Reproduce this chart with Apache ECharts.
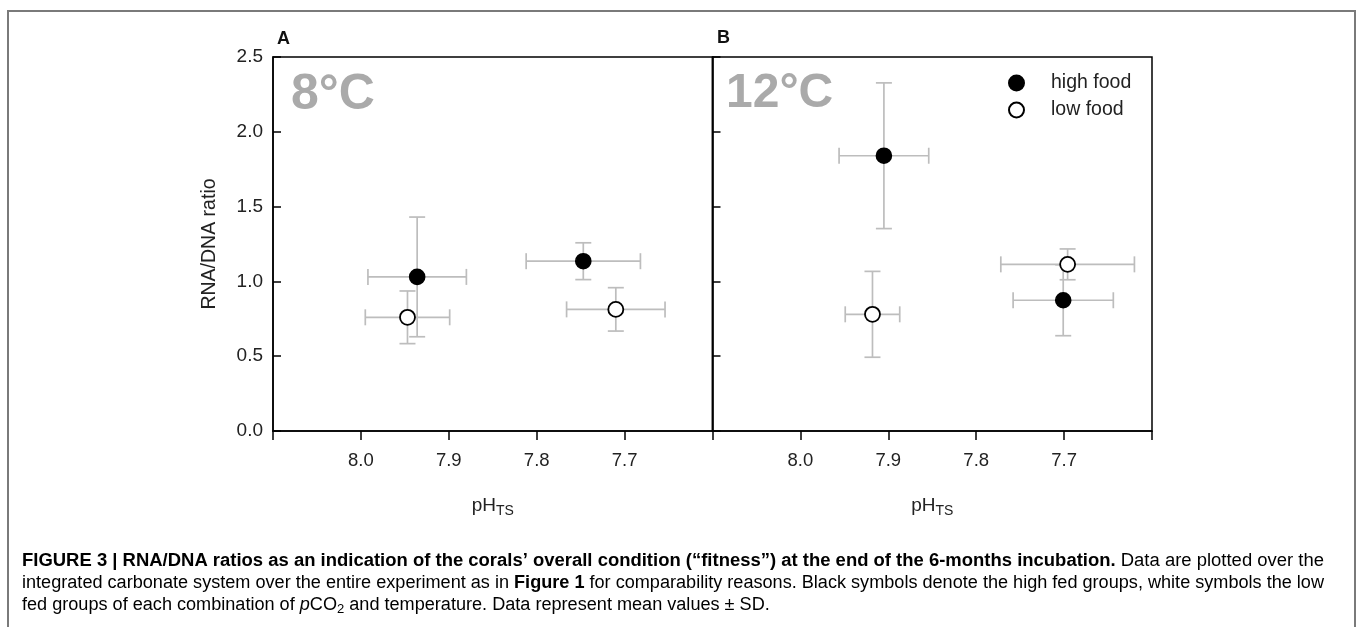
<!DOCTYPE html>
<html><head><meta charset="utf-8">
<script src="https://cdn.jsdelivr.net/npm/echarts@6/dist/echarts.min.js"></script>
<style>html,body{margin:0;padding:0;background:#fff}#c{width:1357px;height:627px}</style>
</head><body><div id="c"></div>
<script>
// ---- data ----
const seriesNames = ['high food', 'low food'];
const panelLetters = ['A', 'B'];
const panelTemps = ['8°C', '12°C'];
const phTickLabels = ['8.0', '7.9', '7.8', '7.7'];
const ratioTickLabels = ['0.0', '0.5', '1.0', '1.5', '2.0', '2.5'];

// Panel A (8 °C)
const aHighPh = [7.936, 7.747];
const aHighPhSd = [0.056, 0.065];
const aHighRatio = [1.03, 1.135];
const aHighRatioSd = [0.40, 0.123];
const aLowPh = [7.947, 7.710];
const aLowPhSd = [0.048, 0.056];
const aLowRatio = [0.76, 0.813];
const aLowRatioSd = [0.176, 0.145];

// Panel B (12 °C)
const bHighPh = [7.905, 7.701];
const bHighPhSd = [0.051, 0.057];
const bHighRatio = [1.84, 0.874];
const bHighRatioSd = [0.487, 0.237];
const bLowPh = [7.918, 7.696];
const bLowPhSd = [0.031, 0.076];
const bLowRatio = [0.78, 1.114];
const bLowRatioSd = [0.287, 0.103];

// ---- build ----
function rows(ph, ratio, phSd, ratioSd) {
  return ph.map((x, i) => [x, ratio[i], phSd[i], ratioSd[i]]);
}
const FONT = '"Liberation Sans", Arial, sans-serif';
const chart = echarts.init(document.getElementById('c'), null, {renderer: 'canvas'});

function errRender(params, api) {
  const x = api.value(0), y = api.value(1), xe = api.value(2), ye = api.value(3);
  const c = api.coord([x, y]);
  const l = api.coord([x + xe, y]);
  const r = api.coord([x - xe, y]);
  const t = api.coord([x, y + ye]);
  const b = api.coord([x, y - ye]);
  const cap = 8;
  const st = {stroke: '#bdbdbd', lineWidth: 1.7};
  const ln = (x1, y1, x2, y2) => ({type: 'line', shape: {x1, y1, x2, y2}, style: st});
  return {type: 'group', children: [
    ln(l[0], c[1], r[0], c[1]),
    ln(l[0], c[1] - cap, l[0], c[1] + cap),
    ln(r[0], c[1] - cap, r[0], c[1] + cap),
    ln(c[0], t[1], c[0], b[1]),
    ln(c[0] - cap, t[1], c[0] + cap, t[1]),
    ln(c[0] - cap, b[1], c[0] + cap, b[1])
  ]};
}

const grids = [
  {left: 273, top: 57, width: 439.5, height: 374},
  {left: 712.5, top: 57, width: 439.5, height: 374}
];
const gridOpts = grids.map(g => Object.assign({show: true, borderColor: '#000', borderWidth: 1.5, backgroundColor: 'transparent'}, g));

function xAxis(idx) {
  return {
    type: 'value', gridIndex: idx, min: 7.6, max: 8.1, interval: 0.1, inverse: true,
    name: '{a|pH}{b|TS}', nameLocation: 'middle', nameGap: 62,
    nameTextStyle: {rich: {
      a: {fontSize: 19, fontFamily: FONT, color: '#222'},
      b: {fontSize: 14, fontFamily: FONT, color: '#222', padding: [11, 0, 0, 0]}
    }},
    axisLine: {show: true, lineStyle: {color: '#000', width: 1.5}},
    axisTick: {show: true, inside: false, length: 9, lineStyle: {color: '#000', width: 1.5}},
    splitLine: {show: false},
    axisLabel: {
      show: true, margin: 20, fontSize: 18.5, fontFamily: FONT, color: '#222',
      showMinLabel: true, showMaxLabel: true,
      formatter: v => { const s = (Math.round(v * 10) / 10).toFixed(1); return phTickLabels.indexOf(s) >= 0 ? s : ''; }
    }
  };
}
function yAxis(idx, labels) {
  return {
    type: 'value', gridIndex: idx, min: 0, max: 2.5, interval: 0.5,
    name: labels ? 'RNA/DNA ratio' : '', nameLocation: 'middle', nameGap: 53,
    nameTextStyle: {fontSize: 19.5, fontFamily: FONT, color: '#222'},
    axisLine: {show: true, lineStyle: {color: '#000', width: 1.5}},
    axisTick: {show: true, inside: true, length: 8, lineStyle: {color: '#000', width: 1.5}},
    splitLine: {show: false},
    axisLabel: {
      show: labels, margin: 10, fontSize: 19, fontFamily: FONT, color: '#222',
      formatter: v => { const s = v.toFixed(1); return ratioTickLabels.indexOf(s) >= 0 ? s : ''; }
    }
  };
}

const highStyle = {color: '#000', borderColor: '#000', borderWidth: 1.6, opacity: 1};
const lowStyle = {color: '#fff', borderColor: '#000', borderWidth: 1.8, opacity: 1};

const panels = [
  {high: rows(aHighPh, aHighRatio, aHighPhSd, aHighRatioSd), low: rows(aLowPh, aLowRatio, aLowPhSd, aLowRatioSd)},
  {high: rows(bHighPh, bHighRatio, bHighPhSd, bHighRatioSd), low: rows(bLowPh, bLowRatio, bLowPhSd, bLowRatioSd)}
];
const series = [];
panels.forEach((p, i) => {
  series.push({type: 'custom', name: 'err' + i + 'h', xAxisIndex: i, yAxisIndex: i, renderItem: errRender,
    data: p.high, encode: {x: 0, y: 1}, z: 1, silent: true});
  series.push({type: 'custom', name: 'err' + i + 'l', xAxisIndex: i, yAxisIndex: i, renderItem: errRender,
    data: p.low, encode: {x: 0, y: 1}, z: 1, silent: true});
});
panels.forEach((p, i) => {
  series.push({type: 'scatter', name: seriesNames[0], xAxisIndex: i, yAxisIndex: i, symbol: 'circle', symbolSize: 15,
    itemStyle: highStyle, data: p.high.map(r => [r[0], r[1]]), z: 3});
  series.push({type: 'scatter', name: seriesNames[1], xAxisIndex: i, yAxisIndex: i, symbol: 'circle', symbolSize: 15,
    itemStyle: lowStyle, data: p.low.map(r => [r[0], r[1]]), z: 3});
});

// ---- caption (fit widths) ----
const CAP_FS = 18;
const cv = document.createElement('canvas').getContext('2d');
function mw(font, t) { cv.font = font; return cv.measureText(t).width; }
const fR = CAP_FS + 'px ' + FONT, fB = 'bold ' + CAP_FS + 'px ' + FONT;
const l1b = 'FIGURE 3 | RNA/DNA ratios as an indication of the corals\u2019 overall condition (\u201cfitness\u201d) at the end of the 6-months incubation.';
const l1r = ' Data are plotted over the';
const l2a = 'integrated carbonate system over the entire experiment as in ';
const l2b = 'Figure 1';
const l2c = ' for comparability reasons. Black symbols denote the high fed groups, white symbols the low';
const l3a = 'fed groups of each combination of ', l3p = 'p', l3c = 'CO', l3s = '2', l3d = ' and temperature. Data represent mean values \u00b1 SD.';
const w1 = mw(fB, l1b) + mw(fR, l1r);
const w2 = mw(fR, l2a) + mw(fB, l2b) + mw(fR, l2c);
const target = 1302;
const s1 = target / w1, s2 = target / w2;
const rich = {
  r: {fontSize: CAP_FS, fontFamily: FONT, color: '#333'},
  b: {fontSize: CAP_FS, fontFamily: FONT, fontWeight: 'bold', color: '#222'},
  i: {fontSize: CAP_FS, fontFamily: FONT, fontStyle: 'italic', color: '#333'},
  s: {fontSize: 13, fontFamily: FONT, color: '#333', padding: [9, 0, 0, 0]}
};
function capText(y, text, sx) {
  return {type: 'text', x: 22, y: y, scaleX: sx, style: {text: text, rich: rich, verticalAlign: 'middle', align: 'left'}};
}

const graphic = [
  {type: 'polyline', shape: {points: [[8, 640], [8, 11], [1355, 11], [1355, 640]]}, style: {stroke: '#7a7a7a', lineWidth: 2, fill: null}},
  {type: 'text', x: 277, y: 39, style: {text: panelLetters[0], font: 'bold 18px ' + FONT, fill: '#111', verticalAlign: 'middle'}},
  {type: 'text', x: 717, y: 38, style: {text: panelLetters[1], font: 'bold 18px ' + FONT, fill: '#111', verticalAlign: 'middle'}},
  {type: 'text', x: 291, y: 95, z: 0, style: {text: panelTemps[0], font: 'bold 50px ' + FONT, fill: '#aaaaaa', verticalAlign: 'middle'}},
  {type: 'text', x: 726, y: 94, z: 0, style: {text: panelTemps[1], font: 'bold 48px ' + FONT, fill: '#aaaaaa', verticalAlign: 'middle'}},
  capText(561, '{b|' + l1b + '}{r|' + l1r + '}', s1),
  capText(583, '{r|' + l2a + '}{b|' + l2b + '}{r|' + l2c + '}', s2),
  capText(605, '{r|' + l3a + '}{i|' + l3p + '}{r|' + l3c + '}{s|' + l3s + '}{r|' + l3d + '}', s2)
];

chart.setOption({
  animation: false,
  backgroundColor: '#fff',
  grid: gridOpts,
  xAxis: [xAxis(0), xAxis(1)],
  yAxis: [yAxis(0, true), yAxis(1, false)],
  legend: {
    data: seriesNames, orient: 'vertical', left: 1008, top: 73, padding: 0,
    itemWidth: 15, itemHeight: 15, itemGap: 7, icon: 'circle',
    textStyle: {fontSize: 19.5, fontFamily: FONT, color: '#222', padding: [0, 0, 0, 22]}
  },
  series: series,
  graphic: graphic
});
</script></body></html>
